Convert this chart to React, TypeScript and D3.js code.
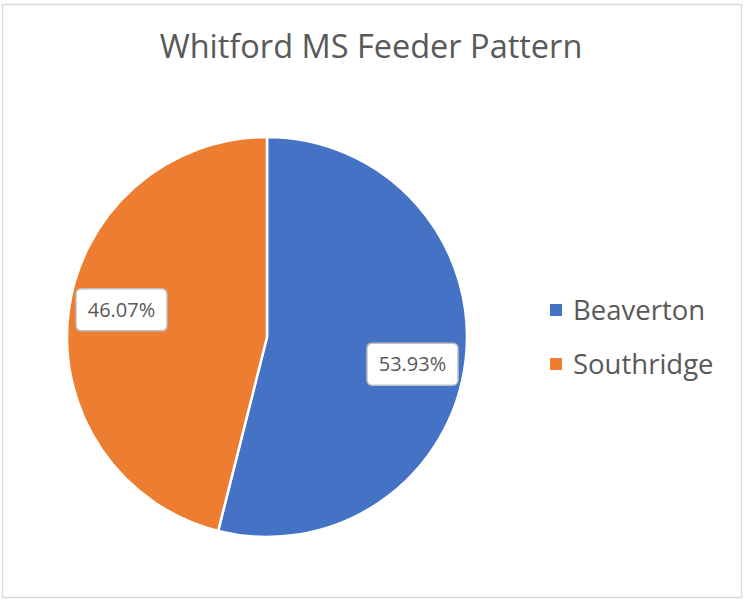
import { useEffect, useRef } from "react";
import * as d3 from "d3";

const title = "Whitford MS Feeder Pattern";
const categories = ["Beaverton", "Southridge"];
const shares = [53.93, 46.07];
const colors = ["#4472C4", "#ED7D31"];

export default function App() {
  const ref = useRef<SVGSVGElement>(null);

  useEffect(() => {
    const svg = d3.select(ref.current);
    svg.selectAll("*").remove();

    const font = "'Open Sans', sans-serif";

    // chart frame
    svg.append("rect")
      .attr("x", 2.5).attr("y", 4.5)
      .attr("width", 739).attr("height", 593)
      .attr("fill", "#fff")
      .attr("stroke", "#D9D9D9")
      .attr("stroke-width", 1.5);

    svg.append("text")
      .attr("x", 371).attr("y", 58)
      .attr("text-anchor", "middle")
      .attr("font-family", font)
      .attr("font-size", 32.5)
      .attr("fill", "#595959")
      .text(title);

    const cx = 267, cy = 337, r = 200;
    const g = svg.append("g").attr("transform", `translate(${cx},${cy})`);

    const pie = d3.pie<number>().sort(null).value(d => d);
    const arcs = pie(shares);
    const arc = d3.arc<d3.PieArcDatum<number>>().innerRadius(0).outerRadius(r);

    g.selectAll("path.slice")
      .data(arcs)
      .enter().append("path")
      .attr("class", "slice")
      .attr("d", arc)
      .attr("fill", (d, i) => colors[i])
      .attr("stroke", "#fff")
      .attr("stroke-width", 2.5)
      .attr("stroke-linejoin", "round");

    // data labels (best-fit-ish, nudged a little clockwise)
    const labelR = 148;
    const nudge = (3.5 * Math.PI) / 180;
    arcs.forEach((d, i) => {
      const a = (d.startAngle + d.endAngle) / 2 + nudge;
      const x = Math.sin(a) * labelR;
      const y = -Math.cos(a) * labelR;
      const lg = g.append("g").attr("transform", `translate(${x},${y})`);
      lg.append("rect")
        .attr("x", -45.5).attr("y", -21)
        .attr("width", 91).attr("height", 42)
        .attr("rx", 5)
        .attr("fill", "#fff")
        .attr("stroke", "#BFBFBF")
        .attr("stroke-width", 1.5);
      lg.append("text")
        .attr("text-anchor", "middle")
        .attr("dy", "0.36em")
        .attr("font-family", font)
        .attr("font-size", 20)
        .attr("fill", "#595959")
        .text(d3.format(".2f")(shares[i]) + "%");
    });

    // legend
    const ly = d3.scalePoint<string>().domain(categories).range([310, 364]);
    const leg = svg.append("g");
    categories.forEach((c, i) => {
      leg.append("rect")
        .attr("x", 550).attr("y", ly(c)! - 6)
        .attr("width", 12).attr("height", 12)
        .attr("fill", colors[i]);
      leg.append("text")
        .attr("x", 573).attr("y", ly(c)!)
        .attr("dy", "0.36em")
        .attr("font-family", font)
        .attr("font-size", 27.5)
        .attr("fill", "#595959")
        .text(c);
    });
  }, []);

  return (
    <svg ref={ref} width={746} height={600}
      style={{ position: "absolute", left: 0, top: 0, display: "block" }} />
  );
}
